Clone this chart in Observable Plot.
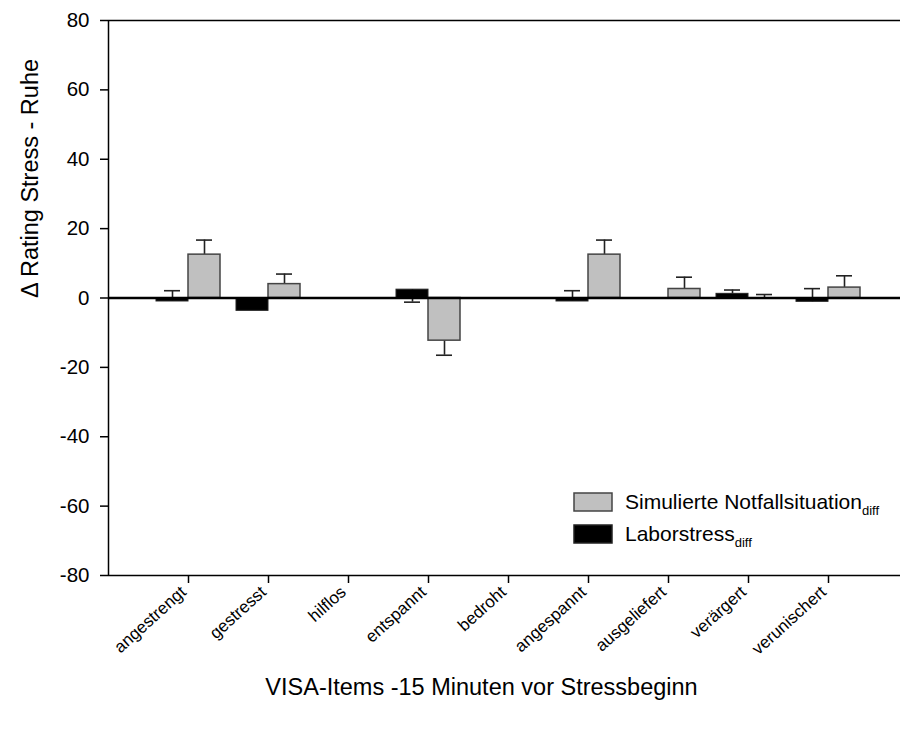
<!DOCTYPE html>
<html><head><meta charset="utf-8">
<script src="https://cdn.jsdelivr.net/npm/d3@7"></script>
<script src="https://cdn.jsdelivr.net/npm/@observablehq/plot@0.6"></script>
<style>body{margin:0;background:#fff;overflow:hidden}</style>
</head><body><div id="chart"></div>
<script>
const items = ["angestrengt","gestresst","hilflos","entspannt","bedroht","angespannt","ausgeliefert","verärgert","verunischert"];
const simValues = [12.5, 4.0, 0, -12.3, 0, 12.5, 2.6, 0, 3.0];
const simErrEnd = [16.7, 6.9, 0, -16.5, 0, 16.7, 6.0, 1.0, 6.4];
const labValues = [-1.0, -3.7, 0, 2.4, 0, -1.0, 0, 1.2, -1.1];
const labErrEnd = [2.1, -3.7, 0, -1.2, 0, 2.1, 0, 2.3, 2.7];
const yTicks = [-80, -60, -40, -20, 0, 20, 40, 60, 80];
const yTitle = "Δ Rating Stress - Ruhe";
const xTitle = "VISA-Items -15 Minuten vor Stressbeginn";
const legendLabels = ["Simulierte Notfallsituation", "Laborstress"];
const legendSub = "diff";

const idx = items.map((d, i) => i + 1);
const sim = items.map((d, i) => ({i: i + 1, v: simValues[i], e: simErrEnd[i]}));
const lab = items.map((d, i) => ({i: i + 1, v: labValues[i], e: labErrEnd[i]}));
const W = 0.4, CAP = 0.1;
const FONT = "'Liberation Sans', Arial, sans-serif";

const plot = Plot.plot({
  width: 900, height: 740,
  marginLeft: 108, marginRight: 0, marginTop: 20, marginBottom: 165,
  style: {fontFamily: FONT, background: "white", color: "black"},
  x: {domain: [0, 9.9]},
  y: {domain: [-80, 80]},
  marks: [
    Plot.axisY({ticks: yTicks, tickSize: 8, tickPadding: 11, tickFormat: d => String(d), fontSize: 20.5, label: null, strokeWidth: 1.5}),
    Plot.axisX({ticks: idx, tickSize: 8, tickFormat: () => "", label: null, strokeWidth: 1.5}),
    Plot.axisX({ticks: idx, tickSize: 0, tickPadding: 14, tickFormat: i => items[i - 1], tickRotate: -42, fontSize: 17, label: null, dx: -5}),
    // error bars
    Plot.ruleX(sim.filter(d => d.e !== d.v), {x: d => d.i + W / 2, y1: "v", y2: "e", stroke: "#222", strokeWidth: 1.6}),
    Plot.ruleY(sim.filter(d => d.e !== d.v), {y: "e", x1: d => d.i + W / 2 - CAP, x2: d => d.i + W / 2 + CAP, stroke: "#222", strokeWidth: 1.6}),
    Plot.ruleX(lab.filter(d => d.e !== d.v), {x: d => d.i - W / 2, y1: "v", y2: "e", stroke: "#222", strokeWidth: 1.6}),
    Plot.ruleY(lab.filter(d => d.e !== d.v), {y: "e", x1: d => d.i - W / 2 - CAP, x2: d => d.i - W / 2 + CAP, stroke: "#222", strokeWidth: 1.6}),
    // bars
    Plot.rect(sim.filter(d => d.v !== 0), {x1: d => d.i, x2: d => d.i + W, y1: 0, y2: "v", fill: "#c0c0c0", stroke: "#444", strokeWidth: 1.5}),
    Plot.rect(lab.filter(d => d.v !== 0), {x1: d => d.i - W, x2: d => d.i, y1: 0, y2: "v", fill: "black", stroke: "#222", strokeWidth: 1}),
    // frame and zero line
    Plot.ruleY([0], {stroke: "black", strokeWidth: 2.5}),
    Plot.ruleY([-80, 80], {stroke: "black", strokeWidth: 1.5}),
    Plot.ruleX([0], {stroke: "black", strokeWidth: 1.5}),
    // titles
    Plot.text([yTitle], {frameAnchor: "left", rotate: -90, dx: -78, fontSize: 23.5, fill: "black"}),
    Plot.text([xTitle], {frameAnchor: "bottom", dy: 119, dx: -23, fontSize: 23.5, fill: "black"})
  ]
});
document.getElementById("chart").append(plot);

// legend
const svg = d3.select(plot);
const lg = svg.append("g").attr("font-family", FONT).attr("fill", "black").attr("text-anchor", "start");
const fills = ["#c0c0c0", "black"];
const strokes = ["#444", "#222"];
legendLabels.forEach((t, k) => {
  const y0 = 493 + k * 32;
  lg.append("rect").attr("x", 574).attr("y", y0).attr("width", 38).attr("height", 18)
    .attr("fill", fills[k]).attr("stroke", strokes[k]).attr("stroke-width", 1.5);
  const tx = lg.append("text").attr("x", 625).attr("y", y0 + 15.5).attr("font-size", 21);
  tx.append("tspan").text(t);
  tx.append("tspan").attr("font-size", 13).attr("dy", 6).text(legendSub);
});
</script>
</body></html>
